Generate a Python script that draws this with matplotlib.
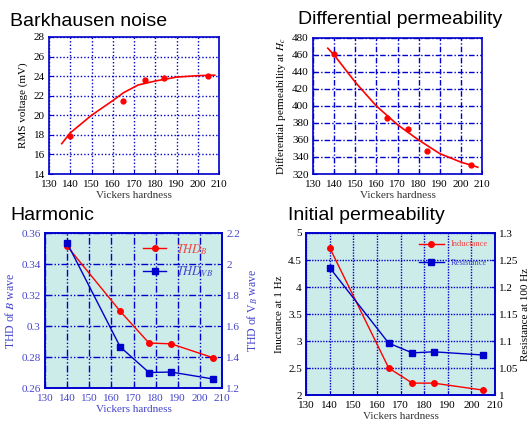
import numpy as np
import matplotlib
matplotlib.use('Agg')
import matplotlib.pyplot as plt

plt.rcParams['font.family'] = 'Liberation Serif'
plt.rcParams['mathtext.fontset'] = 'stix'

# Barkhausen noise
bn_hv = [140, 165, 175, 184, 205]
bn_rms = [17.9, 21.5, 23.6, 23.8, 24.0]
bn_fit_hv = [136, 140, 150, 160, 165, 172, 180, 190, 200, 208]
bn_fit_rms = [17.1, 18.2, 20.0, 21.5, 22.3, 23.1, 23.5, 23.9, 24.05, 24.1]

# Differential permeability
dp_hv = [140, 165, 175, 184, 205]
dp_mu = [461, 386, 373, 347, 331]
dp_fit_hv = [137, 140, 150, 160, 170, 180, 190, 200, 208]
dp_fit_mu = [468, 460, 428, 400, 378, 360, 344, 334, 328]

# Harmonic
hm_hv = [140, 164, 177, 187, 206]
thd_b = [0.3515, 0.3095, 0.289, 0.2885, 0.2795]
thd_vb = [2.135, 1.465, 1.30, 1.303, 1.258]

# Initial permeability
ip_hv = [140, 165, 175, 184, 205]
inductance = [4.73, 2.5, 2.22, 2.22, 2.09]
resistance = [1.236, 1.096, 1.078, 1.080, 1.074]

xticks = np.arange(130, 211, 10)
blue = '#0000cc'
lblue = '#4444cc'
bg = '#ccecea'

fig = plt.figure(figsize=(5.29, 4.23), dpi=100)
W, H = 529, 423

def add_ax(l, t, r, b):
    return fig.add_axes([l / W, 1 - b / H, (r - l) / W, (b - t) / H])

def style(ax, ls, tickcol='black'):
    ax.set_xlim(130, 210)
    ax.set_xticks(xticks)
    ax.grid(True, color=blue, linestyle=ls, linewidth=1.0)
    for s in ax.spines.values():
        s.set_color(blue)
        s.set_linewidth(1.2)
    ax.tick_params(direction='in', labelsize=8, colors=blue, labelcolor=tickcol, length=3)
    ax.tick_params(axis='x', pad=4)
    ax.tick_params(axis='y', pad=3)
    ax.set_xlabel('Vickers hardness', fontsize=8, color='#333333', labelpad=2)

ax1 = add_ax(49, 37, 219, 174)
ax1.plot(bn_fit_hv, bn_fit_rms, color='red', lw=1.2)
ax1.plot(bn_hv, bn_rms, 'o', color='red', ms=3.5)
ax1.set_ylim(14, 28)
ax1.set_yticks(np.arange(14, 29, 2))
style(ax1, (0, (1, 1.5)))
ax1.set_ylabel('RMS voltage (mV)', fontsize=8, labelpad=4)
fig.text(10 / W, 1 - 22 / H, 'Barkhausen noise', fontsize=14, family='Liberation Sans', va='center')

ax2 = add_ax(313, 38, 482, 174)
ax2.plot(dp_fit_hv, dp_fit_mu, color='red', lw=1.2)
ax2.plot(dp_hv, dp_mu, 'o', color='red', ms=3.5)
ax2.set_ylim(320, 480)
ax2.set_yticks(np.arange(320, 481, 20))
style(ax2, (0, (4, 1.5, 1, 1.5)))
ax2.set_ylabel('Differential permeability at $H_c$', fontsize=8, labelpad=3)
fig.text(298 / W, 1 - 20 / H, 'Differential permeability', fontsize=14, family='Liberation Sans', va='center')

ax3 = add_ax(45, 233, 222, 388)
ax3.set_facecolor(bg)
l1, = ax3.plot(hm_hv, thd_b, '-o', color='red', lw=1, ms=4)
ax3.set_ylim(0.26, 0.36)
ax3.set_yticks([0.26, 0.28, 0.3, 0.32, 0.34, 0.36])
ax3.set_yticklabels(['0.26', '0.28', '0.3', '0.32', '0.34', '0.36'])
style(ax3, (0, (5, 1.5, 1, 1.5, 1, 1.5)), tickcol=lblue)
ax3.xaxis.label.set_color(lblue)
ax3.set_ylabel('THD of $B$ wave', fontsize=8.5, color=lblue, labelpad=3)
ax3b = ax3.twinx()
l2, = ax3b.plot(hm_hv, thd_vb, '-s', color=blue, lw=1, ms=5)
ax3b.set_ylim(1.2, 2.2)
ax3b.set_yticks([1.2, 1.4, 1.6, 1.8, 2.0, 2.2])
ax3b.set_yticklabels(['1.2', '1.4', '1.6', '1.8', '2', '2.2'])
ax3b.tick_params(direction='in', labelsize=8, colors=blue, labelcolor=lblue, length=3, pad=3)
for s in ax3b.spines.values():
    s.set_color(blue)
    s.set_linewidth(1.2)
ax3b.set_ylabel('THD of V$_B$ wave', fontsize=8.5, color=lblue, labelpad=4)
leg = ax3.legend([l1, l2], ['$THD_B$', '$THD_{VB}$'], loc='upper right', frameon=False,
                 fontsize=9, handlelength=1.8, borderaxespad=0.3, labelspacing=0.6)
leg.get_texts()[0].set_color('#ee4444')
leg.get_texts()[1].set_color(lblue)
fig.text(10 / W, 1 - 216 / H, 'Harmonic', fontsize=14, family='Liberation Sans', va='center')

ax4 = add_ax(306, 233, 495, 395)
ax4.set_facecolor(bg)
l3, = ax4.plot(ip_hv, inductance, '-o', color='red', lw=1, ms=4)
ax4.set_ylim(2, 5)
ax4.set_yticks([2, 2.5, 3, 3.5, 4, 4.5, 5])
ax4.set_yticklabels(['2', '2.5', '3', '3.5', '4', '4.5', '5'])
style(ax4, (0, (1, 1)))
ax4.set_ylabel('Inuctance at 1 Hz', fontsize=8, labelpad=3)
ax4b = ax4.twinx()
l4, = ax4b.plot(ip_hv, resistance, '-s', color=blue, lw=1, ms=5)
ax4b.set_ylim(1, 1.3)
ax4b.set_yticks([1, 1.05, 1.1, 1.15, 1.2, 1.25, 1.3])
ax4b.set_yticklabels(['1', '1.05', '1.1', '1.15', '1.2', '1.25', '1.3'])
ax4b.tick_params(direction='in', labelsize=8, colors=blue, labelcolor='black', length=3, pad=3)
for s in ax4b.spines.values():
    s.set_color(blue)
    s.set_linewidth(1.2)
ax4b.set_ylabel('Resistance at 100 Hz', fontsize=8, labelpad=2)
leg2 = ax4.legend([l3, l4], ['Inductance', 'Resistance'], loc='upper right', frameon=False,
                  fontsize=6, handlelength=3, borderaxespad=0.5, labelspacing=1.3)
leg2.get_texts()[0].set_color('#ee4444')
leg2.get_texts()[1].set_color(lblue)
fig.text(288 / W, 1 - 216 / H, 'Initial permeability', fontsize=14, family='Liberation Sans', va='center')

fig.savefig('out.png', dpi=100)
